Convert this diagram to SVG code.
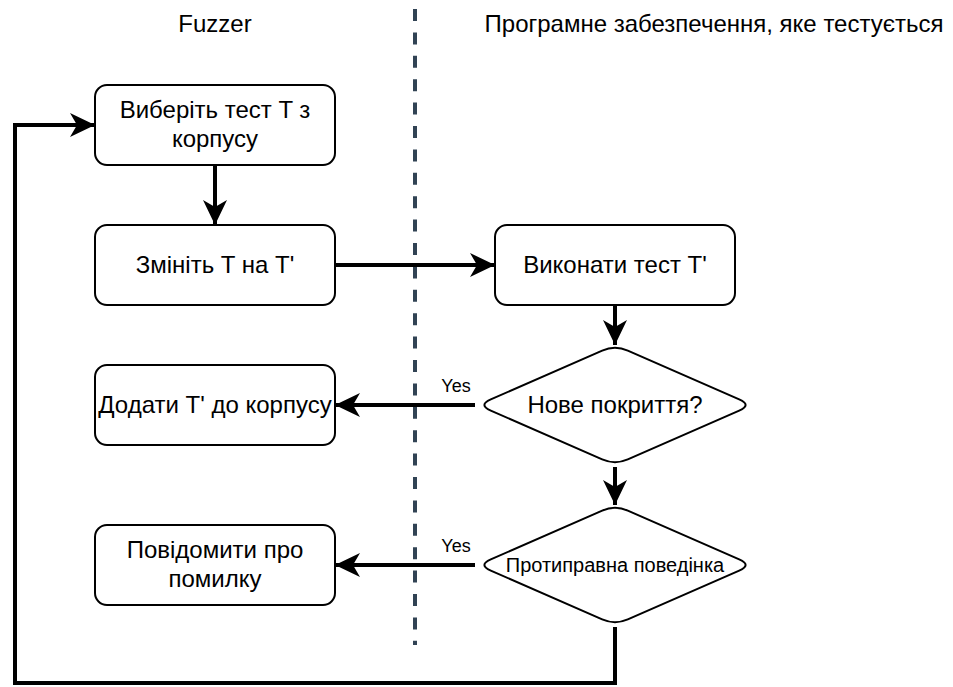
<svg xmlns="http://www.w3.org/2000/svg" width="953" height="687" viewBox="0 0 953 687">
<style>
text{font-family:"Liberation Sans",Arial,sans-serif;fill:#000;text-anchor:middle}
.t{font-size:24px}
.s{font-size:20px}
.y{font-size:18px}
.box{fill:#fff;stroke:#000;stroke-width:2}
.edge{fill:none;stroke:#000;stroke-width:4}
</style>
<defs>
<marker id="arr" markerUnits="userSpaceOnUse" viewBox="-26 -13 27 26" refX="0" refY="0" markerWidth="27" markerHeight="26" orient="auto">
<path d="M0,0 L-25,-12 L-18,0 L-25,12 Z" fill="#000"/>
</marker>
</defs>
<rect width="953" height="687" fill="#fff"/>
<g id="lane-divider">
<line x1="415" y1="9" x2="415" y2="645" stroke="#314354" stroke-width="4" stroke-dasharray="12 11.4"/>
</g>
<g id="titles">
<text class="t" x="215" y="32">Fuzzer</text>
<text class="t" x="714" y="32">Програмне забезпечення, яке тестується</text>
</g>
<g id="connectors">
<line class="edge" x1="215" y1="165" x2="215" y2="225" marker-end="url(#arr)"/>
<line class="edge" x1="335" y1="265" x2="495" y2="265" marker-end="url(#arr)"/>
<line class="edge" x1="615" y1="305" x2="615" y2="345" marker-end="url(#arr)"/>
<line class="edge" x1="615" y1="467" x2="615" y2="505" marker-end="url(#arr)"/>
<line class="edge" x1="475" y1="405" x2="335" y2="405" marker-end="url(#arr)"/>
<line class="edge" x1="475" y1="565" x2="335" y2="565" marker-end="url(#arr)"/>
<path class="edge" d="M615,627 L615,683 L15,683 L15,125 L95,125" marker-end="url(#arr)"/>
<text class="y" x="456" y="392">Yes</text>
<text class="y" x="456" y="552">Yes</text>
</g>
<g id="select-test">
<rect class="box" x="95" y="85" width="240" height="80" rx="12"/>
<text class="t" x="215" y="118">Виберіть тест T з</text>
<text class="t" x="215" y="147">корпусу</text>
</g>
<g id="mutate">
<rect class="box" x="95" y="225" width="240" height="80" rx="12"/>
<text class="t" x="215" y="273">Змініть T на T'</text>
</g>
<g id="execute">
<rect class="box" x="495" y="225" width="240" height="80" rx="12"/>
<text class="t" x="615" y="273">Виконати тест T'</text>
</g>
<g id="add-corpus">
<rect class="box" x="95" y="365" width="240" height="80" rx="12"/>
<text class="t" x="215" y="413">Додати T' до корпусу</text>
</g>
<g id="report">
<rect class="box" x="95" y="525" width="240" height="80" rx="12"/>
<text class="t" x="215" y="558">Повідомити про</text>
<text class="t" x="215" y="587">помилку</text>
</g>
<g id="new-coverage">
<path class="box" d="M490.8,399.4 L602.2,350.6 Q615,345 627.8,350.6 L739.2,399.4 Q752,405 739.2,410.6 L627.8,459.4 Q615,465 602.2,459.4 L490.8,410.6 Q478,405 490.8,399.4 Z"/>
<text class="t" x="615" y="413">Нове покриття?</text>
</g>
<g id="misbehavior">
<path class="box" d="M490.8,559.4 L602.2,510.6 Q615,505 627.8,510.6 L739.2,559.4 Q752,565 739.2,570.6 L627.8,619.4 Q615,625 602.2,619.4 L490.8,570.6 Q478,565 490.8,559.4 Z"/>
<text class="s" x="615" y="572">Протиправна поведінка</text>
</g>
</svg>
